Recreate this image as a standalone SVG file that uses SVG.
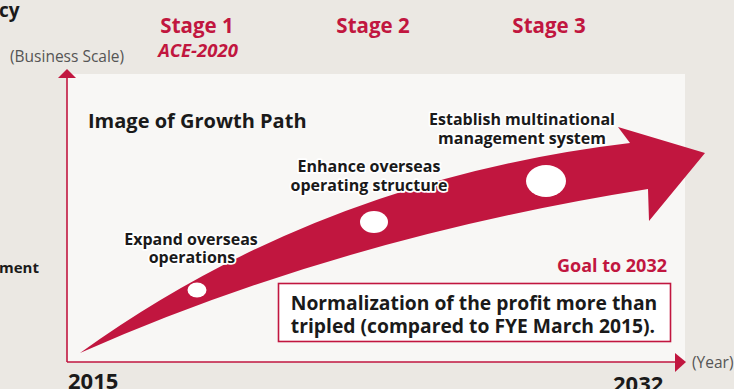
<svg xmlns="http://www.w3.org/2000/svg" width="734" height="389" viewBox="0 0 734 389">
<style>
.b{font-family:"Open Sans","Noto Sans",sans-serif;font-weight:700;fill:#1a1a1a}
.r{font-family:"Open Sans","Noto Sans",sans-serif;font-weight:700;fill:#c1163f}
.g{font-family:"Open Sans","Noto Sans",sans-serif;font-weight:400;fill:#555;font-size:15.5px}
.lab{font-family:"Open Sans","Noto Sans",sans-serif;font-weight:700;fill:#1a1a1a;font-size:16px;text-anchor:middle;stroke:#fff;stroke-width:3.5;stroke-linejoin:round;paint-order:stroke}
.ax{stroke:#c1163f;stroke-width:1.6;fill:none}
</style>
<rect width="734" height="389" fill="#ebe8e3"/>
<g id="panel"><rect x="67" y="74" width="618" height="288" fill="#f8f7f5"/></g>
<g id="cutoff">
<text class="b" x="-1" y="17" font-size="19">cy</text>
<text class="b" x="-1" y="273" font-size="15">ment</text>
</g>
<g id="stages">
<text class="r" x="197" y="33" font-size="20.5" text-anchor="middle">Stage 1</text>
<text class="r" x="198" y="57" font-size="18.5" font-style="italic" text-anchor="middle">ACE-2020</text>
<text class="r" x="373" y="33" font-size="20.5" text-anchor="middle">Stage 2</text>
<text class="r" x="549" y="33" font-size="20.5" text-anchor="middle">Stage 3</text>
</g>
<g id="axes">
<text class="g" x="10" y="62">(Business Scale)</text>
<line class="ax" x1="67" y1="76" x2="67" y2="362"/>
<polygon points="67,69 58,78 76,78" fill="#c1163f"/>
<line class="ax" x1="67" y1="362" x2="676" y2="362"/>
<polygon points="675,353 686,362 675,372" fill="#c1163f"/>
<text class="g" x="692" y="368">(Year)</text>
<text class="b" x="68" y="389" font-size="22">2015</text>
<text class="b" x="613" y="392" font-size="22">2032</text>
</g>
<g id="growth-arrow">
<path d="M80,353 Q320,180 630,143 L618,127 L705,153 L649,221 L648,189 Q340,238 80,353 Z" fill="#c1163f"/>
<ellipse cx="197" cy="290" rx="9.5" ry="7.5" fill="#fff"/>
<ellipse cx="374" cy="222" rx="14" ry="11" fill="#fff"/>
<ellipse cx="546" cy="181" rx="20" ry="16" fill="#fff"/>
</g>
<g id="title"><text class="b" x="88" y="128" font-size="20">Image of Growth Path</text></g>
<g id="label-expand">
<text class="lab" x="191" y="245">Expand overseas</text>
<text class="lab" x="192" y="263">operations</text>
</g>
<g id="label-enhance">
<text class="lab" x="369" y="172">Enhance overseas</text>
<text class="lab" x="369" y="191">operating structure</text>
</g>
<g id="label-establish">
<text class="lab" x="522" y="125">Establish multinational</text>
<text class="lab" x="522" y="144">management system</text>
</g>
<g id="goal">
<text class="r" x="667" y="272" font-size="18" text-anchor="end">Goal to 2032</text>
<rect x="278.5" y="283.5" width="392" height="58" fill="#fff" stroke="#c1163f" stroke-width="1.6"/>
<text class="b" x="474" y="310" font-size="19.3" text-anchor="middle">Normalization of the profit more than</text>
<text class="b" x="473" y="333" font-size="19.3" text-anchor="middle">tripled (compared to FYE March 2015).</text>
</g>
</svg>
